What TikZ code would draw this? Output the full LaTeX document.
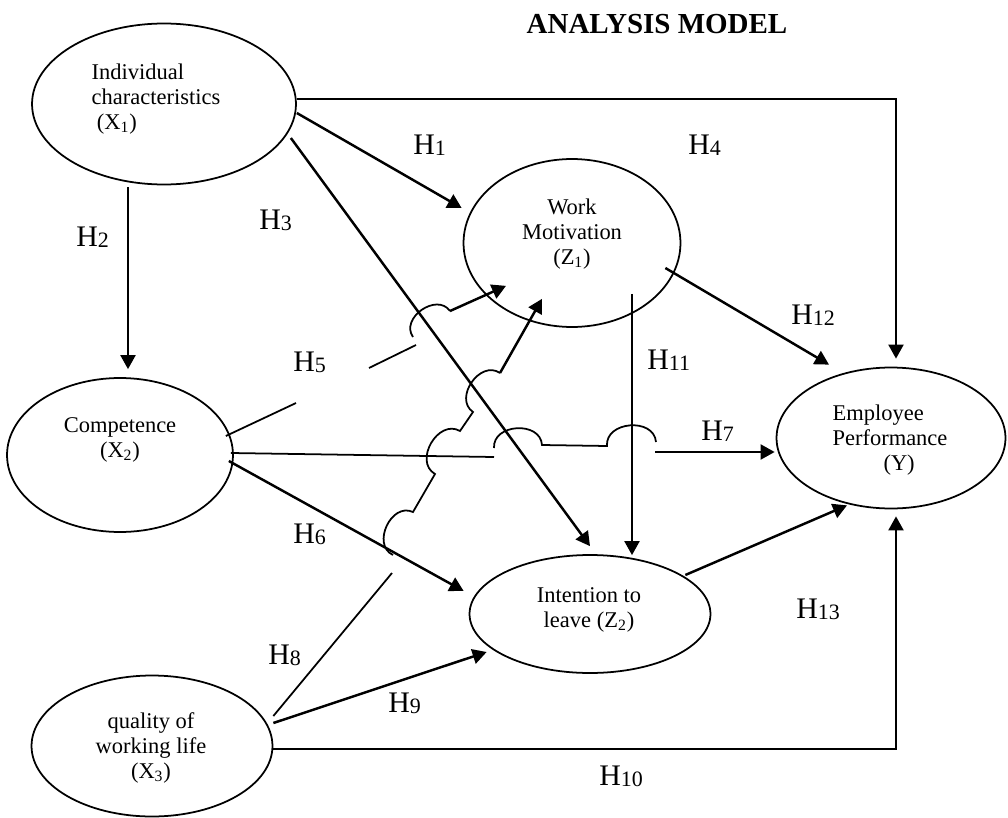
\documentclass[tikz,border=0pt]{standalone}
\usepackage{fontspec}
\setmainfont{Liberation Serif}
\usetikzlibrary{shapes.geometric,arrows.meta,calc}

\tikzset{
  latent/.style={draw, ellipse, line width=1pt, inner sep=0pt},
  vartext/.style={align=center, inner sep=0pt, font=\fontsize{12.8}{14.3}\selectfont},
  hyp/.style={anchor=base west, inner sep=0pt, font=\fontsize{17}{17}\selectfont},
  link/.style={->, line width=1.4pt},
  thinlink/.style={line width=1pt},
  hopover/.style={bend left=90, looseness=1.3},
}
\newcommand\hh[1]{H\raisebox{-1pt}{\fontsize{12.5}{12.5}\selectfont #1}}

\begin{document}
\begin{tikzpicture}[x=0.02cm, y=0.02cm, >={Triangle[length=8pt,width=8.5pt]}]
\useasboundingbox (0,0) rectangle (1008,-818);

% title
\node[anchor=base, inner sep=0pt, font=\fontsize{16.5}{16.5}\selectfont\bfseries] (title) at (657,-33) {ANALYSIS MODEL};

% variables
\node[latent, minimum width=5.28cm, minimum height=3.22cm] (x1) at (164,-104) {};
\node[latent, minimum width=4.52cm, minimum height=3.08cm] (x2) at (120,-455) {};
\node[latent, minimum width=4.82cm, minimum height=2.82cm] (x3) at (152,-746) {};
\node[latent, minimum width=4.34cm, minimum height=3.36cm] (z1) at (572,-243) {};
\node[latent, minimum width=4.82cm, minimum height=2.36cm] (z2) at (590,-614) {};
\node[latent, minimum width=4.58cm, minimum height=2.82cm] (y) at (891,-438) {};

\node[vartext, align=left] (x1t) at (156,-99) {Individual\\characteristics\\\hspace*{3pt}(X\textsubscript{1})};
\node[vartext] (x2t) at (120,-440) {Competence\\(X\textsubscript{2})};
\node[vartext] (x3t) at (151,-748) {quality of\\working life\\(X\textsubscript{3})};
\node[vartext] (z1t) at (572,-234) {Work\\Motivation\\(Z\textsubscript{1})};
\node[vartext] (z2t) at (589,-610) {Intention to\\leave (Z\textsubscript{2})};
\node[vartext, align=left] (yt) at (890,-440) {Employee\\Performance\\\hspace*{29pt}(Y)};

% direct paths
\draw[link] ($(x1.east)+(0,5)$) -| ($(y.north)+(5,8)$);
\draw[link] ($(x1.east)+(0,-9)$) -- ($(z1.west)+(-1,35)$);
\draw[link] ($(x1.south)+(-36,-2)$) -- ($(x2.north)+(8,8)$);
\draw[link] ($(x1.east)+(-6,-34)$) -- ($(z2.north)+(0,8)$);
\draw[link] ($(z1.south)+(60,34)$) -- ($(z2.north)+(42,-1)$);
\draw[link] ($(z1.east)+(-16,-25)$) -- ($(y.north)+(-62,2)$);
\draw[link] ($(z2.east)+(-26,39)$) -- ($(y.south)+(-44,4)$);
\draw[link] ($(x3.east)+(0,-3)$) -| ($(y.south)+(5,-7)$);
\draw[link] ($(x3.east)+(0,23)$) -- ($(z2.west)+(18,-38)$);
\draw[link] ($(x2.east)+(-5,-6)$) -- ($(z2.west)+(-5,23)$);

% H5 with a break and a hop
\draw[thinlink] ($(x2.east)+(-8,19)$) -- (296,-403) (369,-368) -- (416,-345);
\draw[thinlink] (413,-337) to[hopover] (450,-311);
\draw[link] (450,-311) -- ($(z1.south)+(-66,42)$);

% H7 with hops
\draw[thinlink] ($(x2.east)+(-3,2)$) -- (494,-457);
\draw[thinlink] (494,-448) to[hopover] (542,-445) -- (607,-446) to[hopover] (656,-442);
\draw[link] (655,-452) -- ($(y.west)+(-1,-14)$);

% H8 with hops
\draw[thinlink] ($(x3.east)+(0,30)$) -- (392,-573);
\draw[thinlink] (393,-555) to[hopover] (413,-512) -- (435,-474) to[hopover] (460,-431) -- (473,-412) to[hopover] (500,-373);
\draw[link] (500,-373) -- ($(z1.south)+(-30,29)$);

% hypotheses
\node[hyp] (h1) at (413,-154) {\hh{1}};
\node[hyp] (h2) at (76,-246) {\hh{2}};
\node[hyp] (h3) at (259,-229) {\hh{3}};
\node[hyp] (h4) at (688,-154) {\hh{4}};
\node[hyp] (h5) at (293,-371) {\hh{5}};
\node[hyp] (h6) at (293,-543) {\hh{6}};
\node[hyp] (h7) at (701,-440) {\hh{7}};
\node[hyp] (h8) at (268,-664) {\hh{8}};
\node[hyp] (h9) at (388,-712) {\hh{9}};
\node[hyp] (h10) at (599,-785) {\hh{10}};
\node[hyp] (h11) at (647,-369) {\hh{11}};
\node[hyp] (h12) at (791,-324) {\hh{12}};
\node[hyp] (h13) at (796,-618) {\hh{13}};
\end{tikzpicture}
\end{document}
